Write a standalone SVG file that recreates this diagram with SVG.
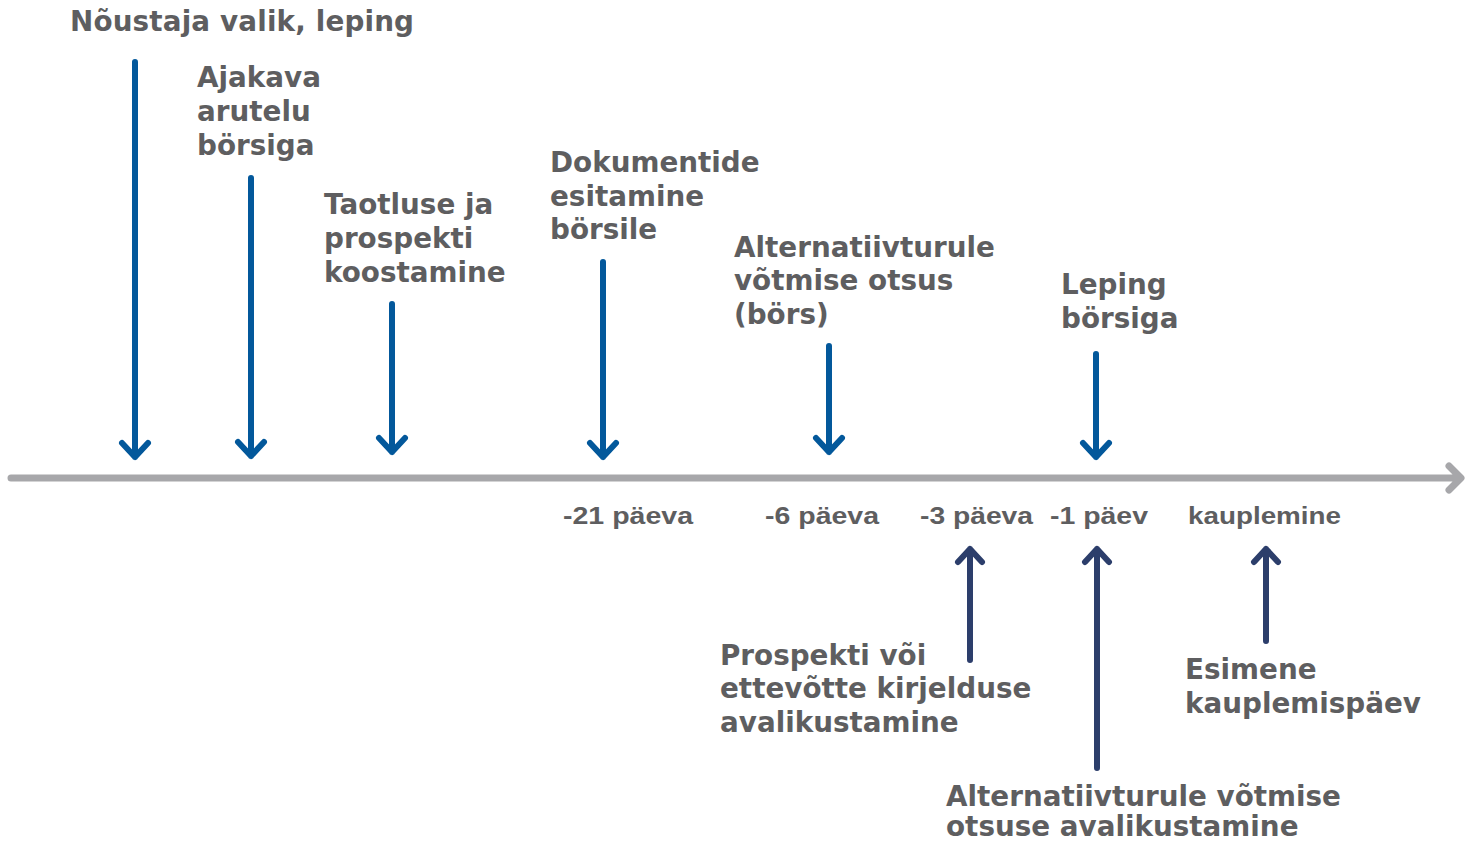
<svg xmlns="http://www.w3.org/2000/svg" width="1466" height="842" viewBox="0 0 1466 842">
<style>
.lbl{font-family:"DejaVu Sans",Verdana,sans-serif;font-weight:bold;font-size:27.8px;fill:#5e5e60}
.tick{font-family:"Liberation Sans",Arial,sans-serif;font-weight:bold;font-size:24px;fill:#5e5e60}
.dn{stroke:#03589b;stroke-width:6;fill:none;stroke-linecap:round;stroke-linejoin:round}
.up{stroke:#2c3e6b;stroke-width:6;fill:none;stroke-linecap:round;stroke-linejoin:round}
.ax{stroke:#a7a7aa;stroke-width:7;fill:none;stroke-linecap:round;stroke-linejoin:round}
</style>
<rect width="1466" height="842" fill="#ffffff"/>
<g id="connectors">
  <path class="ax" d="M11 478 H1460 M1449 466 L1461 478 L1449 490"/>
  <path class="dn" d="M135 62 V457 M122 443 L135 457 L148 443"/>
  <path class="dn" d="M251 178 V456 M238 442 L251 456 L264 442"/>
  <path class="dn" d="M392 304 V452 M379 438 L392 452 L405 438"/>
  <path class="dn" d="M603 262 V457 M590 443 L603 457 L616 443"/>
  <path class="dn" d="M829 346 V452 M816 438 L829 452 L842 438"/>
  <path class="dn" d="M1096 354 V457 M1083 443 L1096 457 L1109 443"/>
  <path class="up" d="M970 660 V549 M958 562 L970 549 L982 562"/>
  <path class="up" d="M1097 768 V549 M1085 562 L1097 549 L1109 562"/>
  <path class="up" d="M1266 641 V549 M1254 562 L1266 549 L1278 562"/>
</g>
<g id="n1"><text class="lbl" x="70" y="31" textLength="344">Nõustaja valik, leping</text></g>
<g id="n2"><text class="lbl" x="197" y="87">Ajakava</text><text class="lbl" x="197" y="121">arutelu</text><text class="lbl" x="197" y="155">börsiga</text></g>
<g id="n3"><text class="lbl" x="324" y="214">Taotluse ja</text><text class="lbl" x="324" y="248">prospekti</text><text class="lbl" x="324" y="282">koostamine</text></g>
<g id="n4"><text class="lbl" x="550" y="172">Dokumentide</text><text class="lbl" x="550" y="206">esitamine</text><text class="lbl" x="550" y="239">börsile</text></g>
<g id="n5"><text class="lbl" x="734" y="257">Alternatiivturule</text><text class="lbl" x="734" y="290">võtmise otsus</text><text class="lbl" x="734" y="324">(börs)</text></g>
<g id="n6"><text class="lbl" x="1061" y="294">Leping</text><text class="lbl" x="1061" y="328">börsiga</text></g>
<g id="ticks">
  <text class="tick" x="563" y="524" textLength="130" lengthAdjust="spacingAndGlyphs">-21 päeva</text>
  <text class="tick" x="765" y="524" textLength="114" lengthAdjust="spacingAndGlyphs">-6 päeva</text>
  <text class="tick" x="920" y="524" textLength="113" lengthAdjust="spacingAndGlyphs">-3 päeva</text>
  <text class="tick" x="1050" y="524" textLength="98" lengthAdjust="spacingAndGlyphs">-1 päev</text>
  <text class="tick" x="1188" y="524" textLength="153" lengthAdjust="spacingAndGlyphs">kauplemine</text>
</g>
<g id="n7"><text class="lbl" x="720" y="665">Prospekti või</text><text class="lbl" x="720" y="698">ettevõtte kirjelduse</text><text class="lbl" x="720" y="732">avalikustamine</text></g>
<g id="n8"><text class="lbl" x="1185" y="679">Esimene</text><text class="lbl" x="1185" y="713">kauplemispäev</text></g>
<g id="n9"><text class="lbl" x="946" y="806">Alternatiivturule võtmise</text><text class="lbl" x="946" y="836">otsuse avalikustamine</text></g>
</svg>
